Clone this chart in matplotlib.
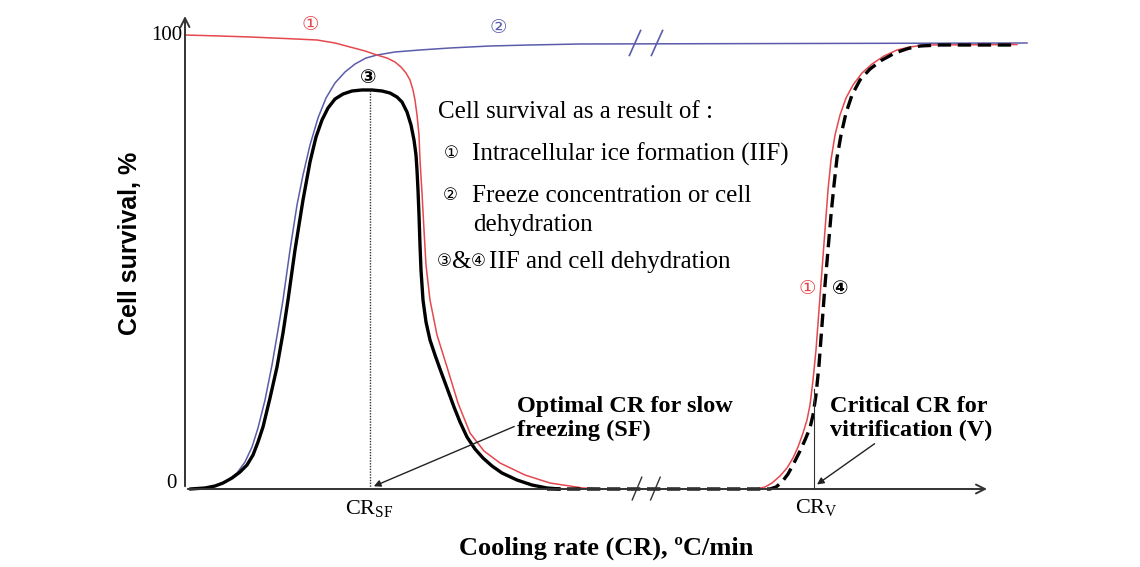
import numpy as np
import matplotlib.pyplot as plt

# schematic curves: cooling rate (arbitrary units) vs cell survival (%)
# 1: intracellular ice formation (red)
iif_x = [0, 4.375, 8.125, 12.5, 16.5, 18.75, 20.625, 22.5, 24.0, 25.25, 26.25, 27.0, 27.625,
         28.125, 28.5, 28.75, 29.0, 29.25, 29.375, 29.625, 29.875, 30.125, 30.625, 31.5,
         32.75, 34.125, 35.625, 37.375, 39.375, 42.5, 45.625, 49.75, 51.875, 71.5,
         72.5, 73.375, 74.375, 75.25, 76.0, 76.625, 77.25, 77.75, 78.125, 78.5, 78.875,
         79.25, 79.625, 80.0, 80.375, 80.75, 81.25, 81.875, 82.625, 83.5, 84.625, 85.875,
         87.375, 89.0, 90.625, 92.5, 104]
iif_y = [100, 99.78, 99.56, 99.23, 98.9, 98.24, 97.36, 96.48, 95.59, 94.93, 94.05, 92.95, 91.63,
         90.09, 87.89, 85.68, 82.38, 77.97, 72.47, 65.2, 57.05, 49.34, 41.63, 33.92,
         26.87, 18.94, 12.33, 8.37, 5.73, 3.08, 1.32, 0.22, 0, 0,
         0.44, 1.32, 2.86, 4.63, 6.83, 9.25, 12.33, 15.2, 18.5, 24.01, 30.62,
         39.43, 48.24, 57.05, 65.86, 72.47, 77.97, 82.38, 86.12, 88.99, 91.63, 93.61,
         95.37, 96.7, 97.36, 97.8, 97.9]

# 2: freeze concentration / dehydration (blue)
dehyd_x = [0.625, 2.5, 3.75, 5.25, 6.5, 7.5, 8.375, 9.125, 10.0, 10.875, 11.625, 12.25,
           13.125, 14.0, 14.75, 15.625, 16.625, 17.625, 18.75, 20.0, 21.25, 22.625, 24.0,
           26.25, 29.375, 33.125, 38.125, 43.125, 49.375, 105.25]
dehyd_y = [0, 0.22, 0.66, 1.76, 3.52, 5.95, 9.25, 13.44, 19.6, 27.31, 35.02, 41.63,
           52.64, 62.56, 69.16, 75.77, 81.72, 86.12, 89.43, 91.85, 93.61, 94.93, 95.59,
           96.26, 96.7, 97.14, 97.58, 97.8, 98.02, 98.24]

# 3: slow freezing (black solid)
slow_x = [0.625, 2.5, 3.75, 4.75, 5.875, 6.875, 7.75, 8.5, 9.125, 9.75, 10.625, 11.5,
          12.25, 12.875, 13.75, 14.75, 15.625, 16.375, 17.125, 17.875, 18.75, 19.75,
          20.875, 22.125, 23.375, 24.625, 25.625, 26.5, 27.125, 27.75, 28.25, 28.625,
          28.875, 29.0, 29.125, 29.25, 29.375, 29.5, 29.75, 30.125, 30.625, 31.25,
          31.875, 32.75, 33.625, 34.375, 35.25, 36.25, 37.25, 38.375, 39.625, 41.5,
          43.375, 45.25, 46.875]
slow_y = [0, 0.22, 0.66, 1.32, 2.42, 3.74, 5.29, 7.49, 10.35, 13.66, 20.04, 26.87,
          34.36, 41.63, 52.64, 63.66, 72.03, 77.53, 81.28, 83.92, 85.9, 87.0,
          87.67, 87.89, 87.89, 87.67, 87.22, 86.34, 85.24, 83.04, 80.18, 76.87,
          73.57, 70.26, 65.86, 60.35, 53.74, 48.24, 41.63, 36.78, 32.82, 29.52,
          26.43, 22.25, 18.06, 14.76, 11.45, 8.81, 6.83, 5.07, 3.52, 1.98,
          0.88, 0.22, 0]

# 4: vitrification (black dashed)
vit_x = [45.25, 73.125, 73.875, 74.625, 75.375, 76.125, 76.875, 77.5, 78.125, 78.5, 78.875,
         79.25, 79.625, 80.0, 80.375, 80.75, 81.125, 81.5, 82.0, 82.625, 83.375, 84.375,
         85.625, 87.125, 88.75, 90.375, 91.875, 94.375, 104]
vit_y = [0, 0, 0.44, 1.54, 3.3, 5.73, 8.37, 10.79, 13.44, 16.3, 20.7,
         27.31, 36.12, 44.93, 52.64, 60.35, 66.96, 72.91, 77.97, 82.82, 86.78, 90.09,
         92.51, 94.49, 96.04, 97.03, 97.58, 97.8, 97.8]

cr_sf = 23.1
cr_sf_top = 87.9
cr_v = 78.6
cr_v_top = 22.0
break_top_x = [56.25, 59.0]
break_bot_x = [56.5, 58.8]

red = '#e5484d'
blue = '#5b5cab'
serif = ['Liberation Serif', 'DejaVu Sans']
body = 18
circ = 12

fig = plt.figure(figsize=(11.4, 5.67), dpi=100)
ax = fig.add_axes([0, 0, 1, 1])
ax.set_xlim(-23.125, 119.375)
ax.set_ylim(-17.18, 107.71)
ax.axis('off')

# axes with arrows
ax.annotate('', xy=(0, 104.8), xytext=(0, 0),
            arrowprops=dict(arrowstyle='->', lw=1.4, color='#333333', mutation_scale=16))
ax.annotate('', xy=(100.6, 0), xytext=(0, 0),
            arrowprops=dict(arrowstyle='->', lw=1.4, color='#333333', mutation_scale=16))

ax.plot(dehyd_x, dehyd_y, color=blue, lw=1.1)
ax.plot(iif_x, iif_y, color=red, lw=1.1)
ax.plot(slow_x, slow_y, color='black', lw=2.4, solid_capstyle='round', solid_joinstyle='round')
ax.plot(vit_x, vit_y, color='black', lw=2.4, dashes=(4, 2))

ax.plot([cr_sf, cr_sf], [0, cr_sf_top], color='#333333', lw=1.0, ls=(0, (1, 1)))
ax.plot([cr_v, cr_v], [0, cr_v_top], color='#333333', lw=0.8)

for bx in break_top_x:
    ax.plot([bx - 0.7, bx + 0.7], [95.5, 101.0], color=blue, lw=1.2)
for bx in break_bot_x:
    ax.plot([bx - 0.6, bx + 0.6], [-2.4, 2.6], color='#333333', lw=1.0)

# tick labels
ax.text(-0.3, 100, '100', ha='right', va='center', fontsize=15, family=serif)
ax.text(-1.0, 1.3, '0', ha='right', va='center', fontsize=15, family=serif)
ax.text(cr_sf, -4.4, r'CR$_{\mathregular{SF}}$', ha='center', va='center', fontsize=16, family=serif)
ax.text(cr_v + 0.3, -4.2, r'CR$_{\mathregular{V}}$', ha='center', va='center', fontsize=16, family=serif)

ax.text(52.6, -13.0, 'Cooling rate (CR), ºC/min', ha='center', va='center',
        fontsize=19, fontweight='bold', family=serif)
ax.text(-6.9, 54.0, 'Cell survival, %', ha='center', va='center', rotation=90,
        fontsize=18, fontweight='bold', family='Liberation Sans')

# curve labels
ax.text(15.6, 102.2, '①', color=red, ha='center', va='center', fontsize=14, family=serif)
ax.text(39.1, 101.5, '②', color=blue, ha='center', va='center', fontsize=14, family=serif)
ax.text(22.9, 90.5, '③', color='black', ha='center', va='center', fontsize=14,
        fontweight='bold', family=serif)
ax.text(77.8, 43.9, '①', color=red, ha='center', va='center', fontsize=14, family=serif)
ax.text(81.9, 43.9, '④', color='black', ha='center', va='center', fontsize=14,
        fontweight='bold', family=serif)

# explanation text
ax.text(31.6, 83.0, 'Cell survival as a result of :', ha='left', va='center', fontsize=body, family=serif)
ax.text(33.25, 73.7, '①', ha='center', va='center', fontsize=circ, family=serif)
ax.text(35.9, 73.7, 'Intracellular ice formation (IIF)', ha='left', va='center', fontsize=body, family=serif)
ax.text(33.1, 64.5, '②', ha='center', va='center', fontsize=circ, family=serif)
ax.text(35.9, 64.5, 'Freeze concentration or cell', ha='left', va='center', fontsize=body, family=serif)
ax.text(36.0, 58.1, 'dehydration', ha='left', va='center', fontsize=body, family=serif)
ax.text(32.4, 49.9, '③', ha='center', va='center', fontsize=circ, family=serif)
ax.text(34.55, 49.9, '&', ha='center', va='center', fontsize=body, family=serif)
ax.text(36.7, 49.9, '④', ha='center', va='center', fontsize=circ, family=serif)
ax.text(38.0, 49.9, 'IIF and cell dehydration', ha='left', va='center', fontsize=body, family=serif)

# annotations
ax.annotate('Optimal CR for slow\nfreezing (SF)', xy=(cr_sf + 0.5, 0.6), xytext=(41.5, 15.5),
            ha='left', va='center', fontsize=17.5, fontweight='bold', family=serif, linespacing=1.15,
            arrowprops=dict(arrowstyle='-|>', lw=1.0, color='#222222', mutation_scale=10,
                            shrinkA=0, shrinkB=0, relpos=(0, 0.35)))
ax.annotate('Critical CR for\nvitrification (V)', xy=(cr_v + 0.4, 1.0), xytext=(80.6, 15.5),
            ha='left', va='center', fontsize=17.5, fontweight='bold', family=serif, linespacing=1.15,
            arrowprops=dict(arrowstyle='-|>', lw=1.0, color='#222222', mutation_scale=10,
                            shrinkA=0, shrinkB=0, relpos=(0.3, 0)))

fig.savefig('out.png', dpi=100)
